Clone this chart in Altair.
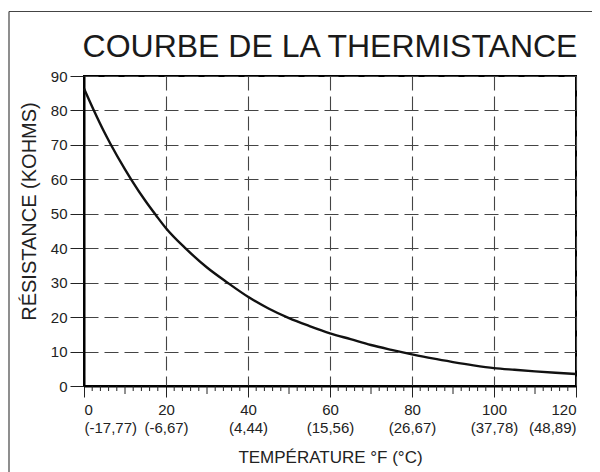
import altair as alt
import pandas as pd

# ---- data ----
temps_f = [0, 2.3, 5, 6.5, 10, 11.6, 15, 17.6, 20, 24.9, 30, 35, 40, 45, 50, 55,
           60, 65, 70, 75, 80, 85, 90, 95, 100, 105, 110, 115, 120]
resistance_kohm = [86.4, 80.3, 73.6, 70.2, 62.9, 59.8, 53.7, 49.5, 45.8, 39.8, 34.4, 30.0,
                   25.9, 22.5, 19.7, 17.4, 15.3, 13.6, 11.9, 10.5, 9.2, 8.0, 6.95, 6.0,
                   5.2, 4.7, 4.25, 3.85, 3.5]

x_ticks = [0, 20, 40, 60, 80, 100, 120]
celsius_labels = ["(-17,77)", "(-6,67)", "(4,44)", "(15,56)", "(26,67)", "(37,78)", "(48,89)"]
y_ticks = [0, 10, 20, 30, 40, 50, 60, 70, 80, 90]
minor_ticks = [v for v in range(0, 121, 2) if v % 10 != 0]
mid_ticks = [v for v in range(10, 121, 20)]

title_text = "COURBE DE LA THERMISTANCE"
x_title = "TEMPÉRATURE °F (°C)"
y_title = "RÉSISTANCE (KOHMS)"

FONT = "Liberation Sans"
W, H = 492, 310

curve = pd.DataFrame({"F": temps_f, "R": resistance_kohm})
minor_df = pd.DataFrame({"F": minor_ticks})
mid_df = pd.DataFrame({"F": mid_ticks})
one = pd.DataFrame({"a": [0]})

label_map = "{" + ",".join(f"'{v}':'{c}'" for v, c in zip(x_ticks, celsius_labels)) + "}"

x_scale = alt.Scale(domain=[0, 120], nice=False, zero=False)
y_scale = alt.Scale(domain=[0, 90], nice=False)

line = alt.Chart(curve).mark_line(
    color="#111111", strokeWidth=2.4, interpolate="monotone"
).encode(
    x=alt.X("F:Q", scale=x_scale,
            axis=alt.Axis(values=x_ticks, title=x_title,
                          labelExpr=f"[datum.label, {label_map}[datum.label]]",
                          tickSize=11, labelPadding=5, labelLineHeight=18,
                          labelFontSize=15,
                          titleX=W / 2, titleY=76, titleBaseline="alphabetic",
                          titleAlign="center", titleFontSize=17,
                          gridDash=[14, 6])),
    y=alt.Y("R:Q", scale=y_scale,
            axis=alt.Axis(values=y_ticks, title=y_title, tickSize=14,
                          labelPadding=3, labelFontSize=15, titleAngle=-90,
                          titleX=-49, titleY=135, titleBaseline="alphabetic",
                          titleAlign="center", titleFontSize=20,
                          gridDash=[14, 6])),
)

minor = alt.Chart(minor_df).mark_rule(color="#222222", strokeWidth=1).encode(
    x=alt.X("F:Q", scale=x_scale),
    y=alt.value(H), y2=alt.value(H + 5),
)
mid = alt.Chart(mid_df).mark_rule(color="#222222", strokeWidth=1).encode(
    x=alt.X("F:Q", scale=x_scale),
    y=alt.value(H), y2=alt.value(H + 8),
)

title = alt.Chart(one).mark_text(
    font=FONT, fontSize=32, color="#1a1a1a", align="center", baseline="alphabetic"
).encode(x=alt.value(W / 2), y=alt.value(-19.5), text=alt.value(title_text))

border_top = alt.Chart(one).mark_rule(color="#444444", strokeWidth=1.2).encode(
    x=alt.value(-75), x2=alt.value(W + 30), y=alt.value(-64.5)
)
border_left = alt.Chart(one).mark_rule(color="#444444", strokeWidth=1.2).encode(
    x=alt.value(-75), y=alt.value(-64.5), y2=alt.value(H + 100)
)

chart = alt.layer(border_top, border_left, title, line, minor, mid).properties(
    width=W, height=H,
    autosize=alt.AutoSizeParams(type="none"),
    padding={"left": 76, "top": 68, "right": 16, "bottom": 86},
).configure_view(
    stroke="#000000", strokeWidth=2
).configure_axis(
    labelFont=FONT, titleFont=FONT, labelFontSize=15, titleFontWeight="normal",
    labelColor="#222222", titleColor="#222222",
    domainColor="#000000", domainWidth=2,
    tickColor="#222222", tickWidth=1,
    gridColor="#444444", gridWidth=1.1, gridOpacity=1, gridDash=[14, 6],
)

chart.save("out.html", embed_options={"renderer": "svg", "actions": False})
